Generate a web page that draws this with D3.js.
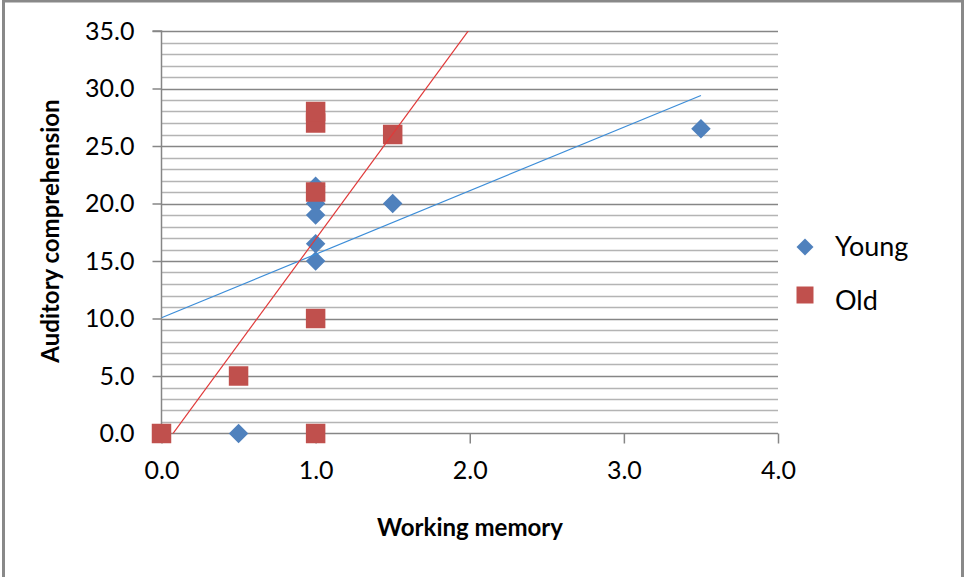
<!DOCTYPE html>
<html>
<head>
<meta charset="utf-8">
<script src="https://cdn.jsdelivr.net/npm/d3@7"></script>
<style>
  body { margin: 0; background: #fff; }
  text { font-family: Lato, "Open Sans", sans-serif; fill: #000; }
</style>
</head>
<body>
<svg id="chart" width="964" height="577"></svg>
<script>
// Young group
var youngX = [0.5, 1, 1, 1, 1, 1, 1.5, 3.5];
var youngY = [0, 21.5, 20, 19, 16.5, 15, 20, 26.5];
// Old group
var oldX = [0, 0.5, 1, 1, 1, 1, 1, 1.5];
var oldY = [0, 5, 0, 10, 21, 27, 28, 26];

var xTicks = [0, 1, 2, 3, 4];
var yTicks = [0, 5, 10, 15, 20, 25, 30, 35];
var seriesNames = ["Young", "Old"];

var blue = "#4F81BD", red = "#C0504D";

var svg = d3.select("#chart");

// outer chart border (bottom edge is cut off in the picture)
svg.append("rect")
  .attr("x", 3.5).attr("y", 1)
  .attr("width", 959).attr("height", 620)
  .attr("fill", "none").attr("stroke", "#898989").attr("stroke-width", 3);

var x = d3.scaleLinear().domain([0, 4]).range([161.5, 778]);
var y = d3.scaleLinear().domain([0, 35]).range([433.5, 31]);

// minor gridlines every 1
var minor = d3.range(1, 35).filter(function(v){ return v % 5 != 0; });
svg.append("g").selectAll("line").data(minor).enter().append("line")
  .attr("x1", x(0)).attr("x2", x(4))
  .attr("y1", function(d){ return Math.round(y(d)) + 0.5; })
  .attr("y2", function(d){ return Math.round(y(d)) + 0.5; })
  .attr("stroke", "#b4b4b4").attr("stroke-width", 1.5);

// major gridlines
svg.append("g").selectAll("line").data(yTicks.slice(1)).enter().append("line")
  .attr("x1", x(0)).attr("x2", x(4))
  .attr("y1", function(d){ return Math.round(y(d)) + 0.5; })
  .attr("y2", function(d){ return Math.round(y(d)) + 0.5; })
  .attr("stroke", "#868686").attr("stroke-width", 1.5);

// axes
var yAxis = d3.axisLeft(y).tickValues(yTicks).tickSize(9).tickPadding(18)
  .tickFormat(d3.format(".1f"));
var xAxis = d3.axisBottom(x).tickValues(xTicks).tickSize(10).tickPadding(18)
  .tickFormat(d3.format(".1f"));

var gy = svg.append("g").attr("transform", "translate(" + x(0) + ",0)").call(yAxis);
var gx = svg.append("g").attr("transform", "translate(0," + y(0) + ")").call(xAxis);
[gy, gx].forEach(function(g){
  g.attr("font-size", null).attr("font-family", null);
  g.select(".domain").attr("stroke", "#868686").attr("stroke-width", 1.5);
  g.selectAll(".tick line").attr("stroke", "#868686").attr("stroke-width", 1.5);
  g.selectAll(".tick text").style("font-family", "Lato, sans-serif")
    .style("font-size", "25px").attr("fill", "#111");
});
gy.select(".domain").attr("d", "M-9," + y(35) + "H0V" + y(0));
gx.select(".domain").attr("d", "M" + x(0) + ",0H" + x(4));

function fit(xs, ys) {
  var mx = d3.mean(xs), my = d3.mean(ys);
  var sxy = d3.sum(xs, function(v, i){ return (v - mx) * (ys[i] - my); });
  var sxx = d3.sum(xs, function(v){ return (v - mx) * (v - mx); });
  var b = sxy / sxx;
  return [b, my - b * mx];
}

svg.append("defs").append("clipPath").attr("id", "plotclip")
  .append("rect").attr("x", x(0)).attr("y", y(35))
  .attr("width", x(4) - x(0)).attr("height", y(0) - y(35));

// markers
svg.append("g").selectAll("path").data(youngX).enter().append("path")
  .attr("d", d3.symbol().type(d3.symbolSquare).size(190))
  .attr("transform", function(d, i){ return "translate(" + x(d) + "," + y(youngY[i]) + ") rotate(45)"; })
  .attr("fill", blue);

svg.append("g").selectAll("path").data(oldX).enter().append("path")
  .attr("d", d3.symbol().type(d3.symbolSquare).size(380))
  .attr("transform", function(d, i){ return "translate(" + x(d) + "," + y(oldY[i]) + ")"; })
  .attr("fill", red);

// linear trendlines
var lines = [[youngX, youngY, "#3C8DD8"], [oldX, oldY, "#E03A3A"]];
lines.forEach(function(l){
  var f = fit(l[0], l[1]);
  var x0 = 0, x1 = d3.max(youngX);
  svg.append("line").attr("clip-path", "url(#plotclip)")
    .attr("x1", x(x0)).attr("y1", y(f[1] + f[0] * x0))
    .attr("x2", x(x1)).attr("y2", y(f[1] + f[0] * x1))
    .attr("stroke", l[2]).attr("stroke-width", 1.2);
});

// axis titles
svg.append("text").attr("x", 470).attr("y", 536).attr("text-anchor", "middle")
  .style("font-size", "24px").style("font-weight", "bold").text("Working memory");
svg.append("text").attr("transform", "translate(59,231) rotate(-90)")
  .attr("text-anchor", "middle")
  .style("font-size", "24px").style("font-weight", "bold").text("Auditory comprehension");

// legend
var leg = svg.append("g");
leg.append("path").attr("d", d3.symbol().type(d3.symbolSquare).size(144))
  .attr("transform", "translate(805,247) rotate(45)").attr("fill", blue);
leg.append("path").attr("d", d3.symbol().type(d3.symbolSquare).size(289))
  .attr("transform", "translate(805,295)").attr("fill", red);
leg.selectAll("text").data(seriesNames).enter().append("text")
  .attr("x", 835).attr("y", function(d, i){ return 256 + i * 54; })
  .style("font-size", "27px").text(function(d){ return d; });
</script>
</body>
</html>
